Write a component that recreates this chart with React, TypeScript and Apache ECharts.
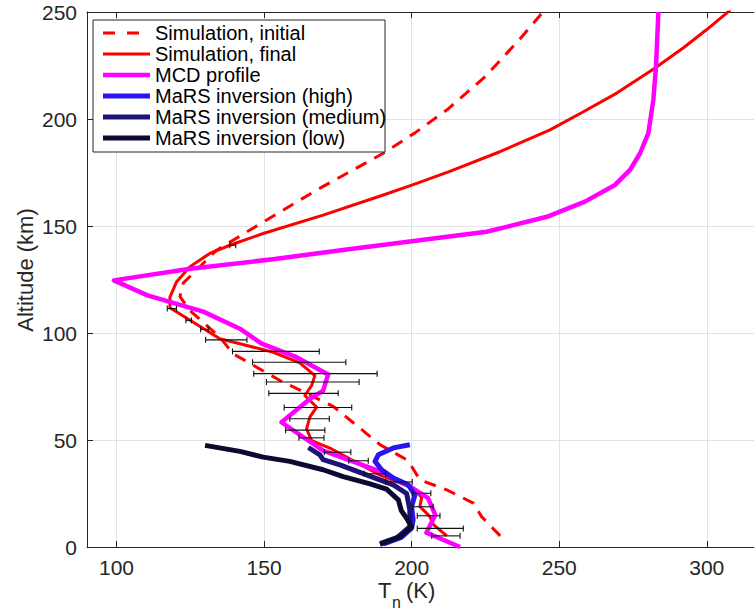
import React, { useEffect, useRef } from "react";
import * as echarts from "echarts";

// ---- Data (temperature T in K, altitude h in km) ----
const simInitT = [230.0, 223.7, 220.9, 211.9, 202.8, 200.0, 198.3, 189.3, 182.5, 173.4, 155.4, 139.5, 135.0, 124.8, 121.5, 122.6, 133.9, 145.2, 167.8, 190.4, 201.0, 212.0, 225.0, 236.5, 244.5];
const simInitH = [5.2, 14.2, 20.5, 26.7, 31.4, 37.6, 40.8, 47.8, 55.5, 65.7, 77.8, 90.3, 98.1, 110.6, 117.0, 123.3, 138.7, 148.1, 166.8, 184.0, 193.4, 204.3, 219.9, 237.1, 250.0];

const simFinalT = [211.9, 207.3, 206.2, 202.8, 203.4, 200.5, 189.3, 172.9, 166.1, 164.4, 165.5, 167.8, 163.8, 166.1, 167.2, 162.1, 153.1, 141.8, 135.0, 118.1, 118.1, 120.3, 124.8, 131.6, 138.4, 149.7, 170.0, 190.4, 200.3, 212.7, 229.9, 246.9, 258.2, 269.5, 282.5, 292.1, 300.0, 306.8, 308.0];
const simFinalH = [5.2, 10.6, 14.2, 18.9, 23.1, 27.5, 33.6, 45.8, 49.7, 55.2, 60.7, 65.4, 70.8, 75.4, 80.1, 86.0, 91.0, 95.0, 97.3, 111.8, 116.8, 123.8, 130.9, 137.2, 141.0, 146.5, 155.1, 164.5, 169.2, 175.4, 184.7, 194.9, 203.4, 212.1, 223.8, 233.3, 241.8, 249.6, 251.0];

const mcdT = [216.4, 205.0, 208.0, 205.5, 199.4, 189.3, 170.0, 155.9, 165.5, 170.0, 171.7, 161.0, 149.2, 141.8, 129.4, 110.5, 99.1, 125.0, 153.0, 178.0, 225.4, 245.8, 258.7, 268.9, 274.0, 277.4, 280.2, 281.9, 282.8, 283.6];
const mcdH = [0.0, 6.7, 15.0, 23.0, 28.3, 35.3, 45.0, 58.3, 69.2, 73.1, 80.6, 88.7, 95.0, 102.0, 110.0, 117.6, 124.6, 130.0, 134.5, 139.0, 147.3, 154.3, 161.4, 169.2, 176.2, 184.0, 193.4, 209.0, 224.6, 250.0];

const marsHighT = [190.5, 196.5, 200.0, 200.5, 200.0, 201.1, 198.8, 193.8, 189.8, 187.6, 188.7, 193.8, 199.4];
const marsHighH = [1.5, 4.5, 8.8, 12.7, 18.9, 24.4, 29.1, 32.2, 36.1, 40.0, 43.1, 46.3, 47.8];

const marsMedT = [189.3, 194.9, 199.4, 199.4, 198.3, 193.8, 184.7, 175.7, 170.0, 168.9, 165.0];
const marsMedH = [1.2, 4.1, 9.5, 17.3, 25.0, 29.0, 33.7, 38.4, 40.8, 43.1, 46.5];

const marsLowT = [189.3, 196.0, 200.0, 198.5, 196.5, 195.5, 191.5, 185.9, 176.8, 170.0, 158.7, 149.7, 141.8, 130.0];
const marsLowH = [1.6, 4.8, 9.5, 13.0, 17.0, 22.0, 27.0, 29.5, 32.9, 36.1, 40.0, 42.0, 44.7, 47.5];

const errH = [141.0, 111.4, 105.9, 101.7, 96.8, 91.4, 86.3, 81.0, 77.1, 71.8, 65.2, 59.9, 54.6, 51.0, 44.3, 40.3, 34.2, 30.4, 25.1, 18.8, 14.6, 8.7, 5.2];
const errLo = [138.4, 117.2, 123.5, 128.5, 130.2, 139.3, 146.1, 146.5, 150.8, 151.6, 156.8, 158.7, 157.3, 161.8, 170.4, 178.7, 183.9, 191.2, 200.2, 200.2, 201.9, 201.9, 206.8];
const errHi = [140.4, 120.3, 125.4, 131.1, 144.2, 168.7, 177.7, 188.3, 182.2, 175.1, 179.7, 172.1, 170.6, 170.3, 179.4, 185.3, 191.2, 200.2, 206.5, 207.3, 209.6, 217.5, 216.4];

const xTicks = [100, 150, 200, 250, 300];
const legendNames = [
  "Simulation, initial",
  "Simulation, final",
  "MCD profile",
  "MaRS inversion (high)",
  "MaRS inversion (medium)",
  "MaRS inversion (low)",
];

const FONT = "'Liberation Sans', Arial, Helvetica, sans-serif";
const AXC = "#262626";

const pairs = (t: number[], h: number[]) => t.map((v, i) => [v, h[i]]);

export default function App() {
  const ref = useRef<HTMLDivElement>(null);
  useEffect(() => {
    const chart = echarts.init(ref.current!, null, { renderer: "svg" });

    const colors = ["#ff0000", "#ff0000", "#ff00ff", "#2a14f0", "#1c1478", "#0b0a30"];
    const widths = [3, 3, 4.5, 5, 5, 5];
    const dashed = [true, false, false, false, false, false];
    const datasets = [
      pairs(simInitT, simInitH),
      pairs(simFinalT, simFinalH),
      pairs(mcdT, mcdH),
      pairs(marsHighT, marsHighH),
      pairs(marsMedT, marsMedH),
      pairs(marsLowT, marsLowH),
    ];

    const lineSeries = datasets.map((d, i) => ({
      type: "line",
      name: legendNames[i],
      data: d,
      showSymbol: false,
      symbol: "none",
      clip: true,
      smooth: false,
      z: 2 + i,
      lineStyle: {
        color: colors[i],
        width: widths[i],
        type: dashed[i] ? [12, 9] : "solid",
        cap: "butt",
        join: "round",
      },
    }));

    const errSeries = {
      type: "custom",
      z: 20,
      clip: true,
      data: errH.map((h, i) => [errLo[i], errHi[i], h]),
      encode: { x: [0, 1], y: 2 },
      renderItem: (_p: any, api: any) => {
        const lo = api.coord([api.value(0), api.value(2)]);
        const hi = api.coord([api.value(1), api.value(2)]);
        const c = 3;
        const st = { stroke: "#111111", lineWidth: 1.1 };
        return {
          type: "group",
          children: [
            { type: "line", shape: { x1: lo[0], y1: lo[1], x2: hi[0], y2: hi[1] }, style: st },
            { type: "line", shape: { x1: lo[0], y1: lo[1] - c, x2: lo[0], y2: lo[1] + c }, style: st },
            { type: "line", shape: { x1: hi[0], y1: hi[1] - c, x2: hi[0], y2: hi[1] + c }, style: st },
          ],
        };
      },
    };

    // legend drawn as graphic
    const lg: any[] = [];
    const lx = 93, ly = 20, lw = 292, lh = 132;
    lg.push({
      type: "rect",
      shape: { x: lx, y: ly, width: lw, height: lh },
      style: { fill: "#ffffff", stroke: AXC, lineWidth: 1 },
      z: 100,
    });
    legendNames.forEach((name, i) => {
      const y = 33 + i * 21;
      lg.push({
        type: "line",
        shape: { x1: 103, y1: y, x2: 150, y2: y },
        style: {
          stroke: colors[i],
          lineWidth: widths[i],
          lineDash: dashed[i] ? [12, 12] : null,
        },
        z: 101,
      });
      lg.push({
        type: "text",
        x: 155,
        y: y,
        style: {
          text: name,
          fill: "#000000",
          font: `20px ${FONT}`,
          verticalAlign: "middle",
          align: "left",
        },
        z: 101,
      });
    });

    // axis titles
    lg.push({
      type: "text",
      x: 25,
      y: 270,
      rotation: Math.PI / 2,
      style: {
        text: "Altitude (km)",
        fill: AXC,
        font: `22px ${FONT}`,
        align: "center",
        verticalAlign: "middle",
      },
    });
    lg.push({
      type: "text",
      x: 378,
      y: 590,
      style: { text: "T", fill: AXC, font: `22px ${FONT}`, align: "left", verticalAlign: "middle" },
    });
    lg.push({
      type: "text",
      x: 392,
      y: 602,
      style: { text: "n", fill: AXC, font: `16px ${FONT}`, align: "left", verticalAlign: "middle" },
    });
    lg.push({
      type: "text",
      x: 406,
      y: 590,
      style: { text: "(K)", fill: AXC, font: `22px ${FONT}`, align: "left", verticalAlign: "middle" },
    });

    const option: any = {
      animation: false,
      backgroundColor: "#ffffff",
      textStyle: { fontFamily: FONT },
      grid: { left: 87, right: 1, top: 12, bottom: 67, containLabel: false },
      xAxis: [
        {
          type: "value",
          position: "bottom",
          min: 90,
          max: 316,
          axisLine: { show: true, onZero: false, lineStyle: { color: AXC, width: 1 } },
          axisTick: { show: true, inside: true, length: 6, customValues: xTicks, lineStyle: { color: AXC } },
          axisLabel: {
            show: true,
            customValues: xTicks,
            color: AXC,
            fontSize: 21,
            fontFamily: FONT,
            margin: 10,
          },
          splitLine: { show: true, lineStyle: { color: "#e2e2e2", width: 1 } },
        },
        {
          type: "value",
          position: "top",
          min: 90,
          max: 316,
          axisLine: { show: true, onZero: false, lineStyle: { color: AXC, width: 1 } },
          axisTick: { show: true, inside: true, length: 6, customValues: xTicks, lineStyle: { color: AXC } },
          axisLabel: { show: false },
          splitLine: { show: false },
        },
      ],
      yAxis: {
        type: "value",
        min: 0,
        max: 250,
        interval: 50,
        axisLine: { show: true, onZero: false, lineStyle: { color: AXC, width: 1 } },
        axisTick: { show: true, inside: true, length: 6, lineStyle: { color: AXC } },
        axisLabel: { color: AXC, fontSize: 21, fontFamily: FONT, margin: 10 },
        splitLine: { show: true, lineStyle: { color: "#e2e2e2", width: 1 } },
      },
      series: [...lineSeries, errSeries],
      graphic: lg,
    };
    chart.setOption(option);
    return () => chart.dispose();
  }, []);
  return (
    <div
      ref={ref}
      style={{ position: "fixed", left: 0, top: 0, width: 755, height: 614, background: "#fff" }}
    />
  );
}
